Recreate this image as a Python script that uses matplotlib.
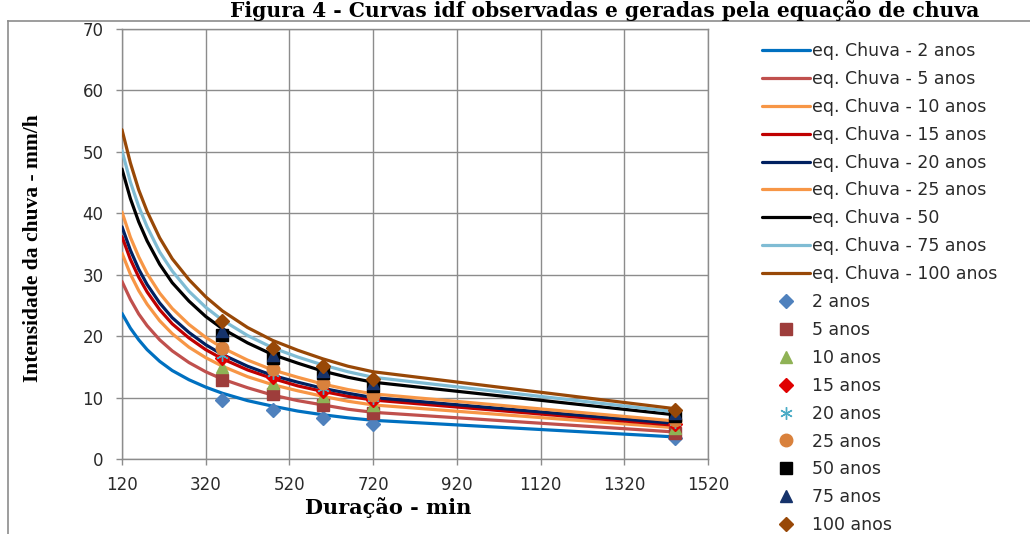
#!/usr/bin/env python3
"""Curvas IDF observadas e geradas pela equacao de chuva."""

import matplotlib

matplotlib.use("Agg")
import matplotlib.pyplot as plt
from matplotlib.lines import Line2D

# durations used for the equation curves (min)
curve_durations = [120, 140, 160, 180, 210, 240, 280, 320, 360, 420, 480, 540, 600, 660, 720, 1440]

eq_2 = [23.7, 21.3, 19.4, 17.8, 15.9, 14.4, 12.9, 11.7, 10.7, 9.5, 8.6, 7.8, 7.2, 6.7, 6.3, 3.6]
eq_5 = [28.9, 26.0, 23.6, 21.7, 19.4, 17.6, 15.7, 14.2, 13.0, 11.6, 10.4, 9.5, 8.8, 8.1, 7.6, 4.4]
eq_10 = [33.5, 30.1, 27.4, 25.2, 22.5, 20.4, 18.2, 16.5, 15.1, 13.4, 12.1, 11.1, 10.2, 9.4, 8.8, 5.1]
eq_15 = [36.2, 32.5, 29.6, 27.2, 24.3, 22.0, 19.7, 17.8, 16.3, 14.5, 13.1, 11.9, 11.0, 10.2, 9.6, 5.5]
eq_20 = [37.8, 34.0, 30.9, 28.4, 25.4, 23.0, 20.6, 18.6, 17.0, 15.1, 13.6, 12.5, 11.5, 10.7, 10.0, 5.8]
eq_25 = [40.2, 36.1, 32.9, 30.2, 27.0, 24.5, 21.9, 19.8, 18.1, 16.1, 14.5, 13.3, 12.2, 11.3, 10.6, 6.2]
eq_50 = [47.2, 42.4, 38.6, 35.5, 31.7, 28.7, 25.7, 23.2, 21.2, 18.9, 17.0, 15.6, 14.3, 13.3, 12.5, 7.2]
eq_75 = [50.2, 45.1, 41.1, 37.8, 33.7, 30.6, 27.3, 24.7, 22.6, 20.1, 18.1, 16.6, 15.3, 14.2, 13.3, 7.7]
eq_100 = [53.6, 48.2, 43.8, 40.3, 36.0, 32.6, 29.2, 26.4, 24.1, 21.4, 19.3, 17.7, 16.3, 15.1, 14.2, 8.2]

curve_labels = [
    "eq. Chuva - 2 anos", "eq. Chuva - 5 anos", "eq. Chuva - 10 anos",
    "eq. Chuva - 15 anos", "eq. Chuva - 20 anos", "eq. Chuva - 25 anos",
    "eq. Chuva - 50", "eq. Chuva - 75 anos", "eq. Chuva - 100 anos",
]
curve_colors = ["#0070c0", "#c0504d", "#f79646", "#c00000", "#002060",
                "#f79646", "#000000", "#7fbcd4", "#984807"]

# observed intensities (mm/h)
obs_durations = [360, 480, 600, 720, 1440]
obs_2 = [9.6, 7.9, 6.6, 5.7, 3.4]
obs_5 = [12.9, 10.6, 8.8, 7.5, 4.3]
obs_10 = [15.0, 12.3, 10.3, 8.8, 5.0]
obs_15 = [16.4, 13.4, 11.1, 9.6, 5.7]
obs_20 = [16.9, 14.0, 11.6, 10.0, 6.0]
obs_25 = [18.1, 14.6, 12.3, 10.4, 6.3]
obs_50 = [20.2, 16.4, 14.0, 11.9, 7.0]
obs_75 = [20.9, 16.9, 14.4, 12.4, 7.5]
obs_100 = [22.4, 18.0, 15.2, 13.1, 7.9]

obs_labels = ["2 anos", "5 anos", "10 anos", "15 anos", "20 anos",
              "25 anos", "50 anos", "75 anos", "100 anos"]
obs_markers = ["D", "s", "^", "D", (6, 2, 0), "o", "s", "^", "D"]
obs_sizes = [7, 8, 9, 7, 9, 9, 8, 9, 7]
obs_colors = ["#4f81bd", "#9e3d3b", "#8fb255", "#e00000", "#4bacc6",
              "#d9813c", "#000000", "#16336b", "#984807"]

x_ticks = [120, 320, 520, 720, 920, 1120, 1320, 1520]
y_ticks = [0, 10, 20, 30, 40, 50, 60, 70]


def main() -> None:
    plt.rcParams["font.family"] = "DejaVu Sans"
    fig = plt.figure(figsize=(10.30, 5.34), dpi=100)
    ax = fig.add_axes([122 / 1030, 1 - 459 / 534, (708 - 122) / 1030, (459 - 29) / 534])

    curves = [eq_2, eq_5, eq_10, eq_15, eq_20, eq_25, eq_50, eq_75, eq_100]
    for values, label, color in zip(curves, curve_labels, curve_colors):
        ax.plot(curve_durations, values, color=color, linewidth=2.3, label=label,
                solid_capstyle="round", zorder=3)

    observed = [obs_2, obs_5, obs_10, obs_15, obs_20, obs_25, obs_50, obs_75, obs_100]
    for values, label, marker, size, color in zip(observed, obs_labels, obs_markers, obs_sizes, obs_colors):
        ax.plot(obs_durations, values, linestyle="none", marker=marker, markersize=size,
                color=color, markeredgecolor=color, markeredgewidth=1.0, label=label, zorder=4)

    ax.set_xlim(120, 1520)
    ax.set_ylim(0, 70)
    ax.set_xticks(x_ticks)
    ax.set_yticks(y_ticks)
    ax.grid(True, color="#8c8c8c", linewidth=1.0, zorder=0)
    ax.set_axisbelow(True)
    for spine in ax.spines.values():
        spine.set_color("#8c8c8c")
        spine.set_linewidth(1.0)
    ax.tick_params(axis="both", colors="#8c8c8c", length=4.3, width=1.0, labelsize=12,
                   labelcolor="#2a2a2a")
    ax.tick_params(axis="y", pad=9)
    ax.tick_params(axis="x", pad=8)

    ax.set_xlabel("Duração - min", family="DejaVu Serif", weight="bold", fontsize=15)
    ax.xaxis.set_label_coords(0.455, -0.088)
    ax.set_ylabel("Intensidade da chuva - mm/h", family="Liberation Serif", weight="bold",
                  fontsize=15.5)
    ax.yaxis.set_label_coords(-0.135, 0.49)

    fig.text(605 / 1030, 1 - 17 / 534, "Figura 4 - Curvas idf observadas e geradas pela equação de chuva",
             family="DejaVu Serif", weight="bold", fontsize=14.6, ha="center", va="baseline")

    # chart area border (cropped Excel frame)
    fig.add_artist(Line2D([8 / 1030, 8 / 1030], [0, 1 - 21 / 534], transform=fig.transFigure,
                          color="#8c8c8c", linewidth=1.2))
    fig.add_artist(Line2D([8 / 1030, 1], [1 - 21 / 534, 1 - 21 / 534], transform=fig.transFigure,
                          color="#8c8c8c", linewidth=1.2))

    ax.legend(loc="upper left", bbox_to_anchor=(762 / 1030, 1 - 42 / 534),
              bbox_transform=fig.transFigure, frameon=False, fontsize=12.5,
              handlelength=2.76, handletextpad=0.12, labelspacing=0.57, borderpad=0,
              borderaxespad=0, numpoints=1, labelcolor="#2a2a2a")

    fig.savefig("out.png", dpi=100)


if __name__ == "__main__":
    main()
